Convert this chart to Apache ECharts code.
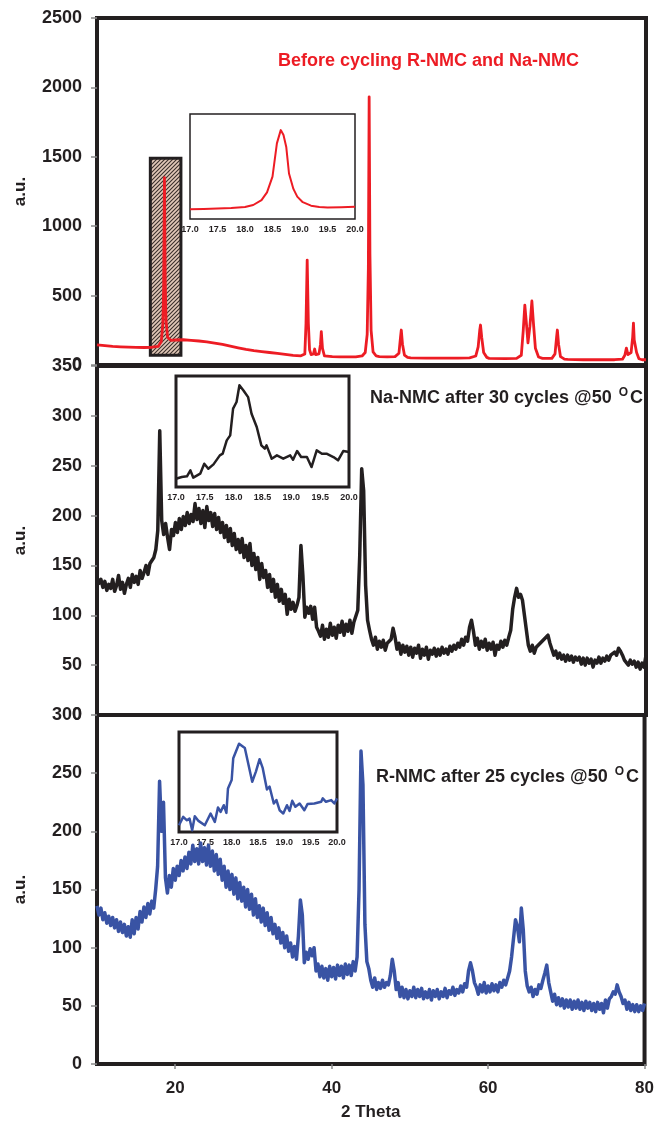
<!DOCTYPE html>
<html>
<head>
<meta charset="utf-8">
<title>XRD NMC</title>
<script src="https://cdn.jsdelivr.net/npm/echarts@6/dist/echarts.min.js"></script>
<style>
  html, body { margin: 0; padding: 0; background: #fff; }
  #xrdChart { width: 657px; height: 1126px; }
</style>
</head>
<body>
<div id="xrdChart"></div>
<script>
  // x-axis ticks of the bottom panel
  const thetaTicks = [20, 40, 60, 80];

  // before cycling (red), sampled where the pattern changes
  const redTheta = [10, 11, 12, 13, 14, 15, 16, 17, 17.8, 18.2, 18.4, 18.5, 18.6, 18.7, 18.8, 19.0, 19.4, 20, 21, 22, 23, 24, 25, 26, 27, 28, 29, 30, 31, 32, 33, 34, 35, 36,
    36.5, 36.65, 36.8, 36.95, 37.1, 37.3, 37.6, 37.75, 37.9, 38.3, 38.5, 38.6, 38.75, 39.0, 40, 41, 42, 43, 43.8, 44.2, 44.45, 44.6, 44.7, 44.8, 44.95, 45.2, 45.6, 46, 47, 48,
    48.5, 48.7, 48.8, 48.95, 49.2, 49.6, 50, 52, 54, 56, 57.5, 58.3, 58.6, 58.8, 58.9, 59.05, 59.3, 59.7, 60, 62, 63.5, 64.1, 64.35, 64.55, 64.75, 64.95, 65.2, 65.45, 65.65,
    65.9, 66.3, 66.8, 68, 68.4, 68.6, 68.7, 68.85, 69.1, 69.6, 70, 72, 74, 76, 77, 77.3, 77.5, 77.7, 78.1, 78.3, 78.4, 78.5, 78.65, 78.8, 79.1, 79.5, 80];
  const redCounts = [145, 139, 134, 131, 129, 127, 126, 128, 134, 170, 300, 560, 1350, 600, 320, 200, 178, 180, 182, 178, 173, 167, 158, 148, 136, 124, 113, 104, 97, 90, 84, 77, 70, 66,
    80, 300, 756, 300, 110, 75, 80, 115, 75, 80, 150, 240, 120, 65, 60, 58, 58, 58, 65, 90, 220, 700, 1932, 800, 250, 95, 65, 60, 58, 60,
    85, 200, 252, 150, 72, 55, 52, 50, 50, 50, 52, 65, 130, 250, 288, 200, 90, 55, 48, 46, 48, 70, 250, 432, 300, 160, 280, 461, 300,
    120, 58, 48, 48, 80, 200, 252, 150, 60, 42, 40, 38, 38, 38, 42, 70, 122, 75, 90, 200, 302, 180, 170, 90, 45, 38, 38];

  // scan grid of the cycled samples, 0.25 degree steps from 10 to 80
  const scanTheta = Array.from({length: 281}, (_, i) => 10 + i * 0.25);

  // Na-NMC after 30 cycles (black)
  const naCounts = [
    138, 132, 136, 128, 134, 125, 131, 127, 136, 124, 130, 140, 126, 133, 122, 131,
    137, 128, 141, 133, 139, 131, 145, 137, 143, 150, 141, 152, 152, 158, 166, 185,
    285, 195, 181, 192, 178, 166, 186, 180, 193, 183, 197, 186, 199, 190, 203, 192,
    201, 194, 212, 196, 207, 192, 205, 188, 209, 195, 203, 189, 202, 186, 198, 183,
    193, 178, 190, 174, 187, 170, 182, 166, 176, 163, 177, 158, 170, 155, 172, 150,
    162, 146, 158, 136, 152, 138, 145, 128, 141, 124, 136, 118, 131, 114, 126, 112,
    121, 101, 116, 106, 113, 104, 110, 118, 170, 140, 98, 108, 102, 109, 96, 108,
    88, 84, 79, 90, 76, 86, 78, 92, 80, 88, 77, 90, 83, 94, 80, 91,
    84, 95, 82, 93, 95, 105, 160, 247, 225, 130, 95, 85, 76, 70, 78, 66,
    74, 68, 75, 65, 72, 70, 76, 87, 78, 66, 72, 61, 70, 63, 69, 60,
    68, 58, 67, 62, 70, 57, 66, 60, 68, 56, 65, 61, 67, 59, 66, 60,
    68, 62, 66, 61, 69, 64, 70, 66, 72, 68, 76, 70, 78, 74, 88, 95,
    84, 70, 77, 66, 74, 68, 76, 65, 72, 66, 73, 60, 70, 66, 74, 68,
    75, 70, 78, 85, 106, 118, 127, 118, 121, 115, 100, 85, 70, 64, 70, 62,
    68, 66, 72, 70, 76, 74, 80, 72, 66, 60, 64, 57, 62, 56, 60, 54,
    60, 55, 59, 53, 58, 55, 58, 51, 57, 50, 57, 52, 56, 48, 55, 52,
    58, 52, 57, 54, 59, 55, 60, 58, 63, 60, 67, 64, 60, 55, 57, 50,
    55, 51, 54, 48, 53, 46, 52, 48, 60];

  // R-NMC after 25 cycles (blue)
  const rCounts = [
    136, 128, 134, 124, 130, 121, 127, 119, 126, 117, 124, 114, 122, 113, 120, 110,
    118, 109, 124, 112, 126, 116, 131, 122, 135, 126, 138, 129, 140, 134, 150, 170,
    243, 200, 225, 160, 147, 162, 152, 168, 158, 170, 162, 175, 166, 178, 168, 182,
    172, 188, 174, 185, 172, 190, 174, 186, 171, 188, 170, 183, 166, 180, 163, 176,
    158, 170, 152, 166, 150, 163, 146, 160, 142, 156, 140, 152, 135, 150, 133, 146,
    128, 142, 126, 136, 122, 134, 119, 130, 115, 126, 112, 120, 108, 117, 104, 113,
    100, 110, 97, 104, 92, 101, 90, 110, 141, 128, 87, 96, 90, 99, 93, 100,
    80, 86, 75, 84, 74, 82, 72, 84, 75, 83, 73, 85, 76, 84, 74, 86,
    77, 85, 76, 88, 80, 92, 150, 269, 240, 120, 88, 82, 72, 66, 74, 64,
    70, 65, 72, 66, 70, 68, 76, 90, 80, 64, 70, 58, 66, 57, 64, 56,
    63, 58, 66, 57, 64, 58, 65, 56, 62, 57, 64, 55, 63, 58, 64, 56,
    62, 58, 65, 57, 63, 60, 66, 59, 64, 61, 67, 62, 69, 66, 80, 87,
    80, 70, 66, 60, 68, 62, 70, 61, 67, 62, 69, 63, 68, 62, 70, 66,
    72, 68, 74, 80, 92, 108, 124, 118, 105, 134, 115, 80, 67, 62, 66, 58,
    64, 60, 68, 65, 72, 78, 85, 70, 62, 54, 60, 51, 57, 50, 56, 48,
    55, 49, 55, 47, 54, 48, 55, 47, 53, 46, 54, 48, 53, 46, 52, 45,
    53, 47, 52, 44, 55, 48, 56, 58, 62, 60, 68, 62, 58, 52, 55, 47,
    53, 46, 51, 45, 51, 45, 50, 46, 52];

  // insets, 17-20 degrees (relative intensity)
  const topInsetTheta = [17.0, 17.25, 17.5, 17.75, 18.0, 18.15, 18.3, 18.4, 18.5, 18.58, 18.65, 18.7, 18.75, 18.8, 18.88, 18.95, 19.05, 19.2, 19.35, 19.5, 19.75, 20.0];
  const topInsetCounts = [138, 142, 150, 158, 172, 200, 270, 380, 605, 1080, 1270, 1200, 1030, 650, 430, 320, 240, 190, 172, 165, 168, 175];
  const midInsetTheta = [17.0, 17.1, 17.19, 17.25, 17.3, 17.42, 17.49, 17.56, 17.65, 17.76, 17.81, 17.88, 17.94, 17.99, 18.05, 18.1, 18.17, 18.25, 18.31, 18.4,
    18.48, 18.54, 18.57, 18.66, 18.75, 18.86, 18.98, 19.03, 19.1, 19.17, 19.27, 19.35, 19.44, 19.53, 19.61, 19.73, 19.81, 19.9, 20.0];
  const midInsetCounts = [7.5, 9, 9.6, 15, 8.4, 12, 21, 16.5, 20.4, 28.5, 30, 42, 46.5, 70.6, 76.6, 91.6, 87, 81, 66, 54,
    37.5, 34.5, 37.5, 25.5, 28.5, 25.5, 28.5, 24.6, 32.4, 27, 27, 18, 33, 30, 30, 27, 24, 32.4, 31.5];
  const lowInsetTheta = [17.0, 17.08, 17.15, 17.2, 17.25, 17.3, 17.37, 17.49, 17.6, 17.68, 17.74, 17.79, 17.85, 17.9, 17.93, 18.0, 18.03, 18.14, 18.25, 18.39, 18.46, 18.53,
    18.59, 18.67, 18.72, 18.8, 18.85, 18.91, 18.98, 19.05, 19.1, 19.15, 19.21, 19.29, 19.38, 19.44, 19.57, 19.7, 19.73, 19.79, 19.89, 19.95, 20.0];
  const lowInsetCounts = [6.7, 15.1, 11.7, 13.4, 1.7, 15.8, 11.1, 6.7, 18.5, 10, 24.5, 20.1, 26.8, 19.1, 43.6, 52, 73.8, 88.3, 83.9, 50.3, 60.4, 72.8,
    63.8, 42.6, 45.3, 28.5, 31.9, 21.8, 18.5, 26.8, 21.1, 31.2, 25.2, 28.5, 21.8, 27.9, 28.5, 30.2, 33.6, 30.2, 31.9, 28.5, 33.6];

  const pairs = (xs, ys) => xs.map((x, i) => [x, ys[i]]);

  const ink = '#231f20';
  const font = '"Liberation Sans", Arial, Helvetica, sans-serif';

  // hatch pattern for the highlighted region
  const hatch = document.createElement('canvas');
  hatch.width = 4;
  hatch.height = 4;
  const hctx = hatch.getContext('2d');
  hctx.fillStyle = '#e2c9b9';
  hctx.fillRect(0, 0, 4, 4);
  hctx.strokeStyle = '#3a302c';
  hctx.lineWidth = 1.1;
  hctx.beginPath();
  hctx.moveTo(-1, 5); hctx.lineTo(5, -1);
  hctx.moveTo(-1, 1); hctx.lineTo(1, -1);
  hctx.moveTo(3, 5); hctx.lineTo(5, 3);
  hctx.stroke();

  const panelGrid = (top, height) => ({
    left: 97, top: top, width: 549, height: height,
    show: true, borderColor: ink, borderWidth: 4, backgroundColor: 'transparent'
  });
  const insetGrid = (left, top, width, height, bw) => ({
    left: left, top: top, width: width, height: height,
    show: true, borderColor: ink, borderWidth: bw, backgroundColor: 'transparent'
  });

  const panelY = (idx, max, step) => ({
    type: 'value', gridIndex: idx, min: 0, max: max, interval: step,
    name: 'a.u.', nameLocation: 'middle', nameGap: 68, nameRotate: 90,
    nameTextStyle: {fontFamily: font, fontWeight: 'bold', fontSize: 17, color: ink},
    axisLine: {show: false},
    axisTick: {show: true, length: 6, lineStyle: {color: '#8a8a8a', width: 1.5}},
    axisLabel: {fontFamily: font, fontWeight: 'bold', fontSize: 18, color: ink, margin: 15,
      formatter: (v) => String(v)},
    splitLine: {show: false}
  });
  const insetX = (idx) => ({
    type: 'value', gridIndex: idx, min: 17, max: 20, interval: 0.5,
    axisLine: {show: false}, axisTick: {show: false}, splitLine: {show: false},
    axisLabel: {fontFamily: font, fontWeight: 'bold', fontSize: 9, color: ink, margin: 6,
      formatter: (v) => v.toFixed(1)}
  });
  const insetY = (idx, max) => ({type: 'value', gridIndex: idx, min: 0, max: max, show: false});

  const line = (name, xi, data, color, width, extra) => Object.assign({
    name: name, type: 'line', xAxisIndex: xi, yAxisIndex: xi, data: data,
    showSymbol: false, symbol: 'none', smooth: false,
    lineStyle: {color: color, width: width, join: 'round'}, silent: true
  }, extra || {});

  let xrdChart = echarts.init(document.getElementById('xrdChart'));
  xrdChart.setOption({
    animation: false,
    backgroundColor: '#fff',
    grid: [
      panelGrid(18, 347),
      panelGrid(366, 349),
      panelGrid(715, 349),
      insetGrid(190, 114, 165, 105, 1.5),
      insetGrid(176, 376, 173, 111, 3),
      insetGrid(179, 732, 158, 100, 3)
    ],
    xAxis: [
      {type: 'value', gridIndex: 0, min: 10, max: 80, show: false},
      {type: 'value', gridIndex: 1, min: 10, max: 80, show: false},
      {
        type: 'value', gridIndex: 2, min: 10, max: 80,
        name: '2 Theta', nameLocation: 'middle', nameGap: 40,
        nameTextStyle: {fontFamily: font, fontWeight: 'bold', fontSize: 17, color: ink},
        axisLine: {show: false},
        axisTick: {show: true, length: 5, customValues: thetaTicks, lineStyle: {color: '#8a8a8a', width: 1.5}},
        axisLabel: {fontFamily: font, fontWeight: 'bold', fontSize: 17, color: ink, margin: 16, customValues: thetaTicks},
        splitLine: {show: false}
      },
      insetX(3), insetX(4), insetX(5)
    ],
    yAxis: [
      panelY(0, 2500, 500),
      panelY(1, 350, 50),
      panelY(2, 300, 50),
      insetY(3, 1500), insetY(4, 100), insetY(5, 100)
    ],
    graphic: [
      {
        type: 'text', left: 278, top: 52, silent: true,
        style: {text: 'Before cycling R-NMC and Na-NMC', fill: '#ed1c24',
          font: 'bold 18px ' + font}
      },
      {
        type: 'text', left: 370, top: 387, silent: true,
        style: {
          text: '{a|Na-NMC after 30 cycles @50 }{s|O}{a|C}',
          rich: {
            a: {fill: ink, fontFamily: font, fontWeight: 'bold', fontSize: 18, lineHeight: 22},
            s: {fill: ink, fontFamily: font, fontWeight: 'bold', fontSize: 12, lineHeight: 10, verticalAlign: 'top', padding: [0, 2, 0, 2]}
          }
        }
      },
      {
        type: 'text', left: 376, top: 766, silent: true,
        style: {
          text: '{a|R-NMC after 25 cycles @50 }{s|O}{a|C}',
          rich: {
            a: {fill: ink, fontFamily: font, fontWeight: 'bold', fontSize: 18, lineHeight: 22},
            s: {fill: ink, fontFamily: font, fontWeight: 'bold', fontSize: 12, lineHeight: 10, verticalAlign: 'top', padding: [0, 2, 0, 2]}
          }
        }
      }
    ],
    series: [
      line('Before cycling', 0, pairs(redTheta, redCounts), '#ed1c24', 2.8, {
        markArea: {
          silent: true,
          itemStyle: {color: {image: hatch, repeat: 'repeat'}, opacity: 1, borderColor: ink, borderWidth: 3},
          data: [[{coord: [16.8, 70]}, {coord: [20.7, 1490]}]]
        }
      }),
      line('Na-NMC', 1, pairs(scanTheta, naCounts), ink, 3.5),
      line('R-NMC', 2, pairs(scanTheta, rCounts), '#3953a4', 3.5),
      line('Before cycling inset', 3, pairs(topInsetTheta, topInsetCounts), '#ed1c24', 2),
      line('Na-NMC inset', 4, pairs(midInsetTheta, midInsetCounts), ink, 2.5),
      line('R-NMC inset', 5, pairs(lowInsetTheta, lowInsetCounts), '#3953a4', 2.5)
    ]
  });
</script>
</body>
</html>
